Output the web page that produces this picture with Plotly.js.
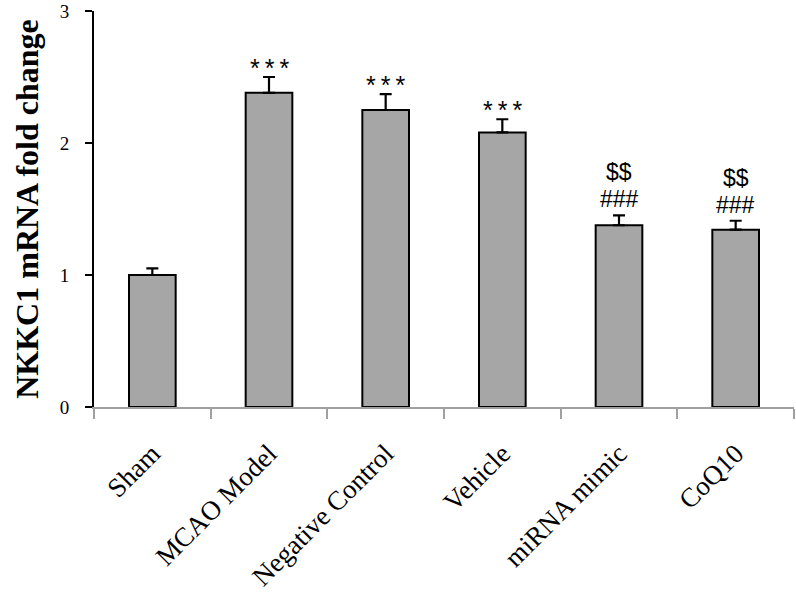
<!DOCTYPE html>
<html>
<head>
<meta charset="utf-8">
<script src="https://cdn.plot.ly/plotly-3.0.1.min.js"></script>
<style>html,body{margin:0;padding:0;background:#fff;}#chart{width:796px;height:593px;}</style>
</head>
<body>
<div id="chart"></div>
<script>
var categories = ["Sham", "MCAO Model", "Negative Control", "Vehicle", "miRNA mimic", "CoQ10"];
var foldChange = [1.00, 2.38, 2.25, 2.08, 1.377, 1.343];
var errorUp = [0.05, 0.12, 0.12, 0.10, 0.075, 0.068];
var starLabels = ["", "*\u2009*\u2009*", "*\u2009*\u2009*", "*\u2009*\u2009*", "", ""];
var hashLabels = ["", "", "", "", "###", "###"];
var dollarLabels = ["", "", "", "", "$$", "$$"];
var yTicks = [0, 1, 2, 3];

var trace = {
  type: "bar",
  x: categories,
  y: foldChange,
  marker: {color: "#a6a6a6", line: {color: "#000", width: 2}},
  error_y: {type: "data", symmetric: false, array: errorUp, arrayminus: errorUp.map(function(){return 0;}),
            color: "#000", thickness: 2.2, width: 6},
  hoverinfo: "none"
};

var annotations = [];
function addLabels(labels, shift, font) {
  labels.forEach(function(t, i) {
    if (!t) return;
    annotations.push({x: categories[i], y: foldChange[i] + errorUp[i], xref: "x", yref: "y",
      text: t, showarrow: false, yanchor: "middle", yshift: shift, font: font});
  });
}
addLabels(starLabels, 9, {family: "Liberation Sans, Arial, sans-serif", size: 25, color: "#000"});
addLabels(hashLabels, 16, {family: "Liberation Sans, Arial, sans-serif", size: 23, color: "#000"});
addLabels(dollarLabels, 43, {family: "Liberation Sans, Arial, sans-serif", size: 23, color: "#000"});

var layout = {
  width: 796, height: 593,
  margin: {l: 94, r: 2, t: 11, b: 186},
  paper_bgcolor: "#fff", plot_bgcolor: "#fff",
  bargap: 0.6,
  showlegend: false,
  font: {family: "Liberation Serif, Times New Roman, serif", color: "#000"},
  xaxis: {
    type: "category",
    range: [-0.5, 5.5],
    showline: true, linecolor: "#a0a0a0", linewidth: 2,
    ticks: "outside", tickson: "boundaries", ticklen: 10, tickwidth: 2, tickcolor: "#a0a0a0",
    tickangle: -45,
    ticklabelstandoff: 18,
    tickfont: {family: "Liberation Serif, Times New Roman, serif", size: 27, color: "#000"},
    showgrid: false, zeroline: false, automargin: false
  },
  yaxis: {
    range: [0, 3],
    tickvals: yTicks, ticktext: yTicks.map(String),
    showline: true, linecolor: "#000", linewidth: 2,
    ticks: "outside", ticklen: 7, tickwidth: 2, tickcolor: "#000",
    ticklabelstandoff: 12,
    tickfont: {family: "Liberation Serif, Times New Roman, serif", size: 19, color: "#000"},
    showgrid: false, zeroline: false,
    title: {text: "<b>NKKC1 mRNA fold change</b>", standoff: 12,
            font: {family: "Liberation Serif, Times New Roman, serif", size: 32, color: "#000"}}
  },
  annotations: annotations
};

Plotly.newPlot("chart", [trace], layout, {displayModeBar: false, staticPlot: true});
</script>
</body>
</html>
